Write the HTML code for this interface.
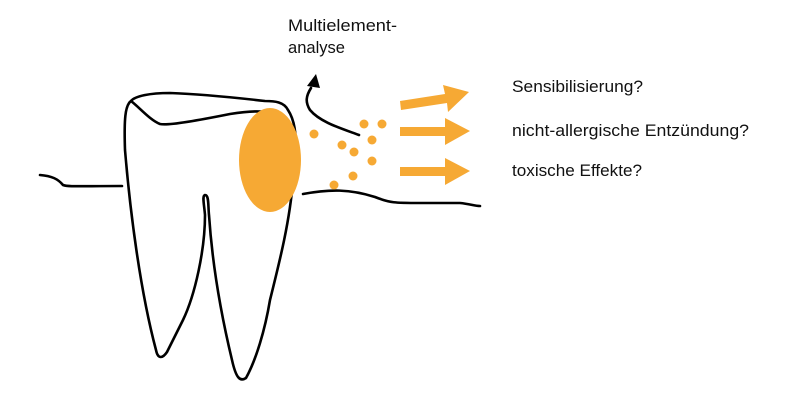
<!DOCTYPE html>
<html><head><meta charset="utf-8"><style>
html,body{margin:0;padding:0;background:#fff;width:789px;height:408px;overflow:hidden}
svg{display:block}
text{font-family:"Liberation Sans",sans-serif;font-size:17px;fill:#111}
</style></head><body>
<svg width="789" height="408" viewBox="0 0 789 408">
<g fill="none" stroke="#000" stroke-width="2.6" stroke-linecap="round" stroke-linejoin="round">
<path d="M40,175 C52,176 58,179 63,185 C68,187 80,186 122,186"/>
<path d="M303,194 C330,189 350,189 375,197 C390,203 395,203 420,203 L460,203 C470,204 475,206 480,206"/>
<path d="M131,101 C125,105 124,120 125,150 C130,210 140,290 156,350 C158,360 163,358 167,352 L183,320 C195,295 205,250 205,215 C204,203 202,196 205,195 C209,195 208,205 209,215 C212,260 220,310 232,360 C236,378 240,382 246,378 C256,360 265,330 270,300 C280,260 290,220 293,180 C297,150 298,125 288,110 C284,102 275,101 265,101 C230,97 200,94 170,93 C150,93 135,96 131,101 Z"/>
<path d="M131,101 C140,108 150,120 160,124 C168,126 200,120 230,114 C255,110 268,110 286,118"/>
<path d="M359,135 C340,128 320,122 310,110 C305,102 306,96 311,88"/>
</g>
<polygon points="316,74 307,86 320,88" fill="#000"/>
<ellipse cx="270" cy="160" rx="31" ry="52" fill="#f6a934"/>
<g fill="#f6a934">
<circle cx="314" cy="134" r="4.5"/><circle cx="342" cy="145" r="4.5"/><circle cx="354" cy="152" r="4.5"/>
<circle cx="364" cy="124" r="4.5"/><circle cx="382" cy="124" r="4.5"/><circle cx="372" cy="140" r="4.5"/>
<circle cx="372" cy="161" r="4.5"/><circle cx="353" cy="176" r="4.5"/><circle cx="334" cy="185" r="4.5"/>
<polygon points="400,101 445,94 443,85 469,92 448,112 447,103 401,110"/>
<polygon points="400,127 445,127 445,118 470,131 445,145 445,136 400,136"/>
<polygon points="400,167 445,167 445,158 470,171 445,185 445,176 400,176"/>
</g>
<text x="288" y="31" textLength="109" lengthAdjust="spacingAndGlyphs">Multielement-</text>
<text x="288" y="53" textLength="57" lengthAdjust="spacingAndGlyphs">analyse</text>
<text x="512" y="92" textLength="131" lengthAdjust="spacingAndGlyphs">Sensibilisierung?</text>
<text x="512" y="136" textLength="237" lengthAdjust="spacingAndGlyphs">nicht-allergische Entzündung?</text>
<text x="512" y="176" textLength="130" lengthAdjust="spacingAndGlyphs">toxische Effekte?</text>
</svg>
</body></html>
